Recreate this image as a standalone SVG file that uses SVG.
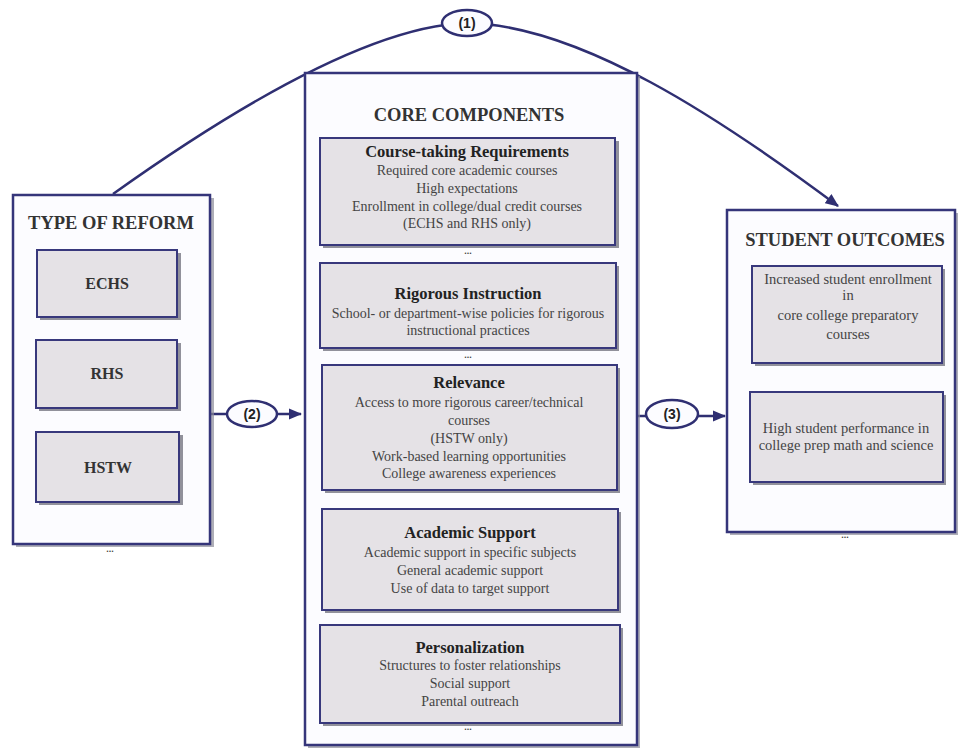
<svg xmlns="http://www.w3.org/2000/svg" width="960" height="750" viewBox="0 0 960 750">
<defs>
<style>
.panel{fill:#fcfcff;stroke:#35357a;stroke-width:2.5}
.pshadow{fill:#8c8c98;opacity:0.7}
.box{fill:#e5e2e6;stroke:#38387c;stroke-width:2}
.bshadow{fill:#6e6e7a;opacity:0.75}
.title{font-family:"Liberation Serif",serif;font-weight:bold;font-size:18.5px;fill:#333;text-anchor:middle}
.head{font-family:"Liberation Serif",serif;font-weight:bold;font-size:16.5px;fill:#222;text-anchor:middle}
.body{font-family:"Liberation Serif",serif;font-size:14px;fill:#444;text-anchor:middle}
.small{font-family:"Liberation Serif",serif;font-size:14.5px;fill:#444;text-anchor:middle}
.lbl{font-family:"Liberation Serif",serif;font-weight:bold;font-size:16px;fill:#333;text-anchor:middle}
.dots{font-family:"Liberation Sans",sans-serif;font-weight:bold;font-size:9px;fill:#444;text-anchor:middle}
.conn{fill:none;stroke:#2f2f72;stroke-width:2.5}
.oval{fill:#fcfcff;stroke:#2f2f72;stroke-width:2.5}
.olbl{font-family:"Liberation Sans",sans-serif;font-weight:bold;font-size:14px;fill:#222;text-anchor:middle}
</style>
<marker id="arr" viewBox="0 0 12 10" refX="11" refY="5" markerWidth="5.5" markerHeight="4.5" orient="auto" markerUnits="strokeWidth">
<path d="M0,0 L12,5 L0,10 z" fill="#2f2f72"/>
</marker>
</defs>
<rect width="960" height="750" fill="#ffffff"/>

<g id="connectors">
<path class="conn" d="M113,194 C200,132 360,26 467,23 C580,25 720,118 838,206" marker-end="url(#arr)"/>
<line class="conn" x1="211" y1="414" x2="301" y2="414" marker-end="url(#arr)"/>
<line class="conn" x1="638" y1="416" x2="725" y2="416" marker-end="url(#arr)"/>
<g id="label1"><ellipse class="oval" cx="467" cy="23" rx="25" ry="13"/><text class="olbl" x="467" y="28">(1)</text></g>
<g id="label2"><ellipse class="oval" cx="252" cy="414" rx="25" ry="13"/><text class="olbl" x="252" y="419">(2)</text></g>
<g id="label3"><ellipse class="oval" cx="672" cy="414" rx="26" ry="14"/><text class="olbl" x="672" y="419">(3)</text></g>
</g>

<g id="type-of-reform">
<rect class="pshadow" x="16" y="198" width="198" height="349"/>
<rect class="panel" x="13" y="195" width="197" height="349"/>
<text class="title" x="111" y="229">TYPE OF REFORM</text>
<text class="dots" x="110" y="552">...</text>
</g>
<g id="echs">
<rect class="bshadow" x="40" y="253" width="141" height="67"/>
<rect class="box" x="37" y="250" width="140" height="67"/>
<text class="lbl" x="107" y="289">ECHS</text>
</g>
<g id="rhs">
<rect class="bshadow" x="39" y="343" width="142" height="68"/>
<rect class="box" x="36" y="340" width="141" height="68"/>
<text class="lbl" x="107" y="379">RHS</text>
</g>
<g id="hstw">
<rect class="bshadow" x="39" y="435" width="144" height="70"/>
<rect class="box" x="36" y="432" width="143" height="70"/>
<text class="lbl" x="108" y="473">HSTW</text>
</g>

<g id="core-components">
<rect class="pshadow" x="308" y="76" width="332" height="672"/>
<rect class="panel" x="305" y="73" width="332" height="672"/>
<text class="title" x="469" y="121">CORE COMPONENTS</text>
<text class="dots" x="468" y="254">...</text>
<text class="dots" x="468" y="358">...</text>
<text class="dots" x="468" y="730">...</text>
</g>
<g id="course-taking">
<rect class="bshadow" x="323" y="141" width="296" height="107"/>
<rect class="box" x="320" y="138" width="295" height="107"/>
<text class="head" x="467" y="157">Course-taking Requirements</text>
<text class="body" x="467" y="175">Required core academic courses</text>
<text class="body" x="467" y="193">High expectations</text>
<text class="body" x="467" y="211">Enrollment in college/dual credit courses</text>
<text class="body" x="467" y="228">(ECHS and RHS only)</text>
</g>
<g id="rigorous">
<rect class="bshadow" x="323" y="266" width="296" height="85"/>
<rect class="box" x="320" y="263" width="296" height="85"/>
<text class="head" x="468" y="299">Rigorous Instruction</text>
<text class="body" x="468" y="318">School- or department-wise policies for rigorous</text>
<text class="body" x="468" y="335">instructional practices</text>
</g>
<g id="relevance">
<rect class="bshadow" x="325" y="368" width="295" height="125"/>
<rect class="box" x="322" y="365" width="295" height="125"/>
<text class="head" x="469" y="388">Relevance</text>
<text class="body" x="469" y="407">Access to more rigorous career/technical</text>
<text class="body" x="469" y="425">courses</text>
<text class="body" x="469" y="443">(HSTW only)</text>
<text class="body" x="469" y="461">Work-based learning opportunities</text>
<text class="body" x="469" y="478">College awareness experiences</text>
</g>
<g id="academic-support">
<rect class="bshadow" x="325" y="512" width="296" height="101"/>
<rect class="box" x="322" y="509" width="296" height="101"/>
<text class="head" x="470" y="538">Academic Support</text>
<text class="body" x="470" y="557">Academic support in specific subjects</text>
<text class="body" x="470" y="575">General academic support</text>
<text class="body" x="470" y="593">Use of data to target support</text>
</g>
<g id="personalization">
<rect class="bshadow" x="323" y="628" width="300" height="98"/>
<rect class="box" x="320" y="625" width="300" height="98"/>
<text class="head" x="470" y="653">Personalization</text>
<text class="body" x="470" y="670">Structures to foster relationships</text>
<text class="body" x="470" y="688">Social support</text>
<text class="body" x="470" y="706">Parental outreach</text>
</g>

<g id="student-outcomes">
<rect class="pshadow" x="730" y="213" width="228" height="322"/>
<rect class="panel" x="727" y="210" width="228" height="322"/>
<text class="title" x="845" y="246">STUDENT OUTCOMES</text>
<text class="dots" x="845" y="538">...</text>
</g>
<g id="enrollment">
<rect class="bshadow" x="755" y="269" width="190" height="97"/>
<rect class="box" x="752" y="266" width="190" height="97"/>
<text class="small" x="848" y="284">Increased student enrollment</text>
<text class="small" x="848" y="300">in</text>
<text class="small" x="848" y="320">core college preparatory</text>
<text class="small" x="848" y="339">courses</text>
</g>
<g id="performance">
<rect class="bshadow" x="753" y="395" width="193" height="90"/>
<rect class="box" x="750" y="392" width="193" height="90"/>
<text class="small" x="846" y="433">High student performance in</text>
<text class="small" x="846" y="450">college prep math and science</text>
</g>
</svg>
